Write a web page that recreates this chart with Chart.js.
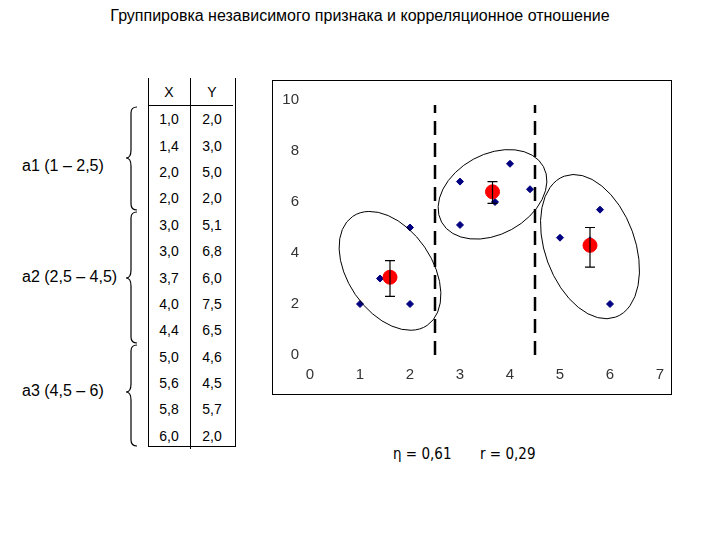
<!DOCTYPE html>
<html><head><meta charset="utf-8">
<script src="https://cdn.jsdelivr.net/npm/chart.js@4"></script>
<style>
  body { margin:0; width:720px; height:540px; background:#fff; font-family:"Liberation Sans", Arial, sans-serif; position:relative; overflow:hidden; }
  .abs { position:absolute; }
  #title { left:0; width:720px; top:7px; text-align:center; font-size:16px; }
  #tbl { left:148px; top:78px; border-collapse:collapse; font-size:14px; }
  #tbl td { width:42px; height:26.4px; text-align:center; padding:0; }
  #tbl td:first-child { border-right:1px solid #000; }
  #tbl tr:first-child td { border-bottom:1px solid #000; height:27px; }
  #tblbox { left:148px; top:78px; width:86px; height:368px; border:1px solid #000; border-top:none; }
  .grp { font-size:16px; left:22px; }
  #frame { left:272px; top:80px; width:400px; height:315px; border:1px solid #000; box-sizing:border-box; }
  #wrap { left:272px; top:80px; width:400px; height:315px; }
  .stat { top:445px; font-size:15px; font-family:"DejaVu Sans Condensed","DejaVu Sans",sans-serif; }
</style></head>
<body>
<div id="title" class="abs">Группировка независимого признака и корреляционное отношение</div>
<table id="tbl" class="abs"></table>
<div id="tblbox" class="abs"></div>
<svg class="abs" style="left:0;top:0" width="150" height="460">
  <g fill="none" stroke="#000" stroke-width="1.2">
    <path d="M137,107 Q131,107 131,113 L131,150 Q131,158 126,158 Q131,158 131,166 L131,204 Q131,210 137,210"/>
    <path d="M137,212 Q131,212 131,218 L131,270 Q131,278 126,278 Q131,278 131,286 L131,337 Q131,343 137,343"/>
    <path d="M137,345 Q131,345 131,351 L131,384 Q131,392 126,392 Q131,392 131,400 L131,440 Q131,446 137,446"/>
  </g>
</svg>
<div class="abs grp" style="top:157px">а1 (1 – 2,5)</div>
<div class="abs grp" style="top:268px">а2 (2,5 – 4,5)</div>
<div class="abs grp" style="top:382px">а3 (4,5 – 6)</div>
<div id="frame" class="abs"></div>
<div id="wrap" class="abs"><canvas id="c" width="400" height="315"></canvas></div>
<div class="abs stat" style="left:393px">η = 0,61</div>
<div class="abs stat" style="left:480px">r = 0,29</div>
<script>
const xVals = [1.0, 1.4, 2.0, 2.0, 3.0, 3.0, 3.7, 4.0, 4.4, 5.0, 5.6, 5.8, 6.0];
const yVals = [2.0, 3.0, 5.0, 2.0, 5.1, 6.8, 6.0, 7.5, 6.5, 4.6, 4.5, 5.7, 2.0];
const groupMeanX = [1.6, 3.65, 5.6];
const groupMeanY = [3.05, 6.4, 4.3];
const errLow = [2.3, 5.95, 3.45];
const errHigh = [3.7, 6.8, 5.0];
const boundaries = [2.5, 4.5];
const ellipseCx = [1.6, 3.65, 5.6];
const ellipseCy = [3.3, 6.3, 4.25];
const fmt = v => v.toFixed(1).replace('.', ',');

// table
const tbl = document.getElementById('tbl');
let html = '<tr><td>X</td><td>Y</td></tr>';
xVals.forEach((x, i) => { html += `<tr><td>${fmt(x)}</td><td>${fmt(yVals[i])}</td></tr>`; });
tbl.innerHTML = html;

const extras = {
  id: 'extras',
  afterDatasetsDraw(chart) {
    const { ctx, scales: { x, y } } = chart;
    ctx.save();
    // dashed group boundaries
    ctx.strokeStyle = '#000'; ctx.lineWidth = 2.5; ctx.setLineDash([14, 8]);
    boundaries.forEach(b => {
      ctx.beginPath(); ctx.moveTo(x.getPixelForValue(b), y.getPixelForValue(0));
      ctx.lineTo(x.getPixelForValue(b), y.getPixelForValue(9.8)); ctx.stroke();
    });
    ctx.setLineDash([]);
    // error bars
    ctx.lineWidth = 1.2;
    groupMeanX.forEach((gx, i) => {
      const px = x.getPixelForValue(gx), lo = y.getPixelForValue(errLow[i]), hi = y.getPixelForValue(errHigh[i]);
      ctx.beginPath();
      ctx.moveTo(px, lo); ctx.lineTo(px, hi);
      ctx.moveTo(px - 5, lo); ctx.lineTo(px + 5, lo);
      ctx.moveTo(px - 5, hi); ctx.lineTo(px + 5, hi);
      ctx.stroke();
    });
    // ellipses
    const shapes = [[42, 66, -0.6], [58, 40, -0.5], [45, 75, -0.35]];
    ctx.lineWidth = 1;
    ellipseCx.forEach((cx, i) => {
      ctx.beginPath();
      ctx.ellipse(x.getPixelForValue(cx), y.getPixelForValue(ellipseCy[i]), shapes[i][0], shapes[i][1], shapes[i][2], 0, Math.PI * 2);
      ctx.stroke();
    });
    ctx.restore();
  }
};

new Chart(document.getElementById('c'), {
  type: 'scatter',
  data: {
    datasets: [
      { data: groupMeanX.map((gx, i) => ({ x: gx, y: groupMeanY[i] })), pointRadius: 7, backgroundColor: '#ff0000', borderColor: '#ff0000' },
      { data: xVals.map((x, i) => ({ x, y: yVals[i] })), pointStyle: 'rectRot', pointRadius: 3.5, backgroundColor: '#000080', borderColor: '#000080' }
    ]
  },
  options: {
    responsive: false, animation: false,
    layout: { padding: { top: 20, right: 12, left: 0, bottom: 0 } },
    plugins: { legend: { display: false }, tooltip: { enabled: false } },
    scales: {
      x: { min: 0, max: 7, ticks: { stepSize: 1, color: '#333', font: { size: 15, family: 'Liberation Sans' } },
           grid: { display: false }, border: { display: false }, afterFit: s => { s.height = 40; } },
      y: { min: 0, max: 10, ticks: { stepSize: 2, color: '#333', font: { size: 15, family: 'Liberation Sans' } },
           grid: { display: false }, border: { display: false }, afterFit: s => { s.width = 38; } }
    }
  },
  plugins: [extras]
});
</script>
</body></html>
